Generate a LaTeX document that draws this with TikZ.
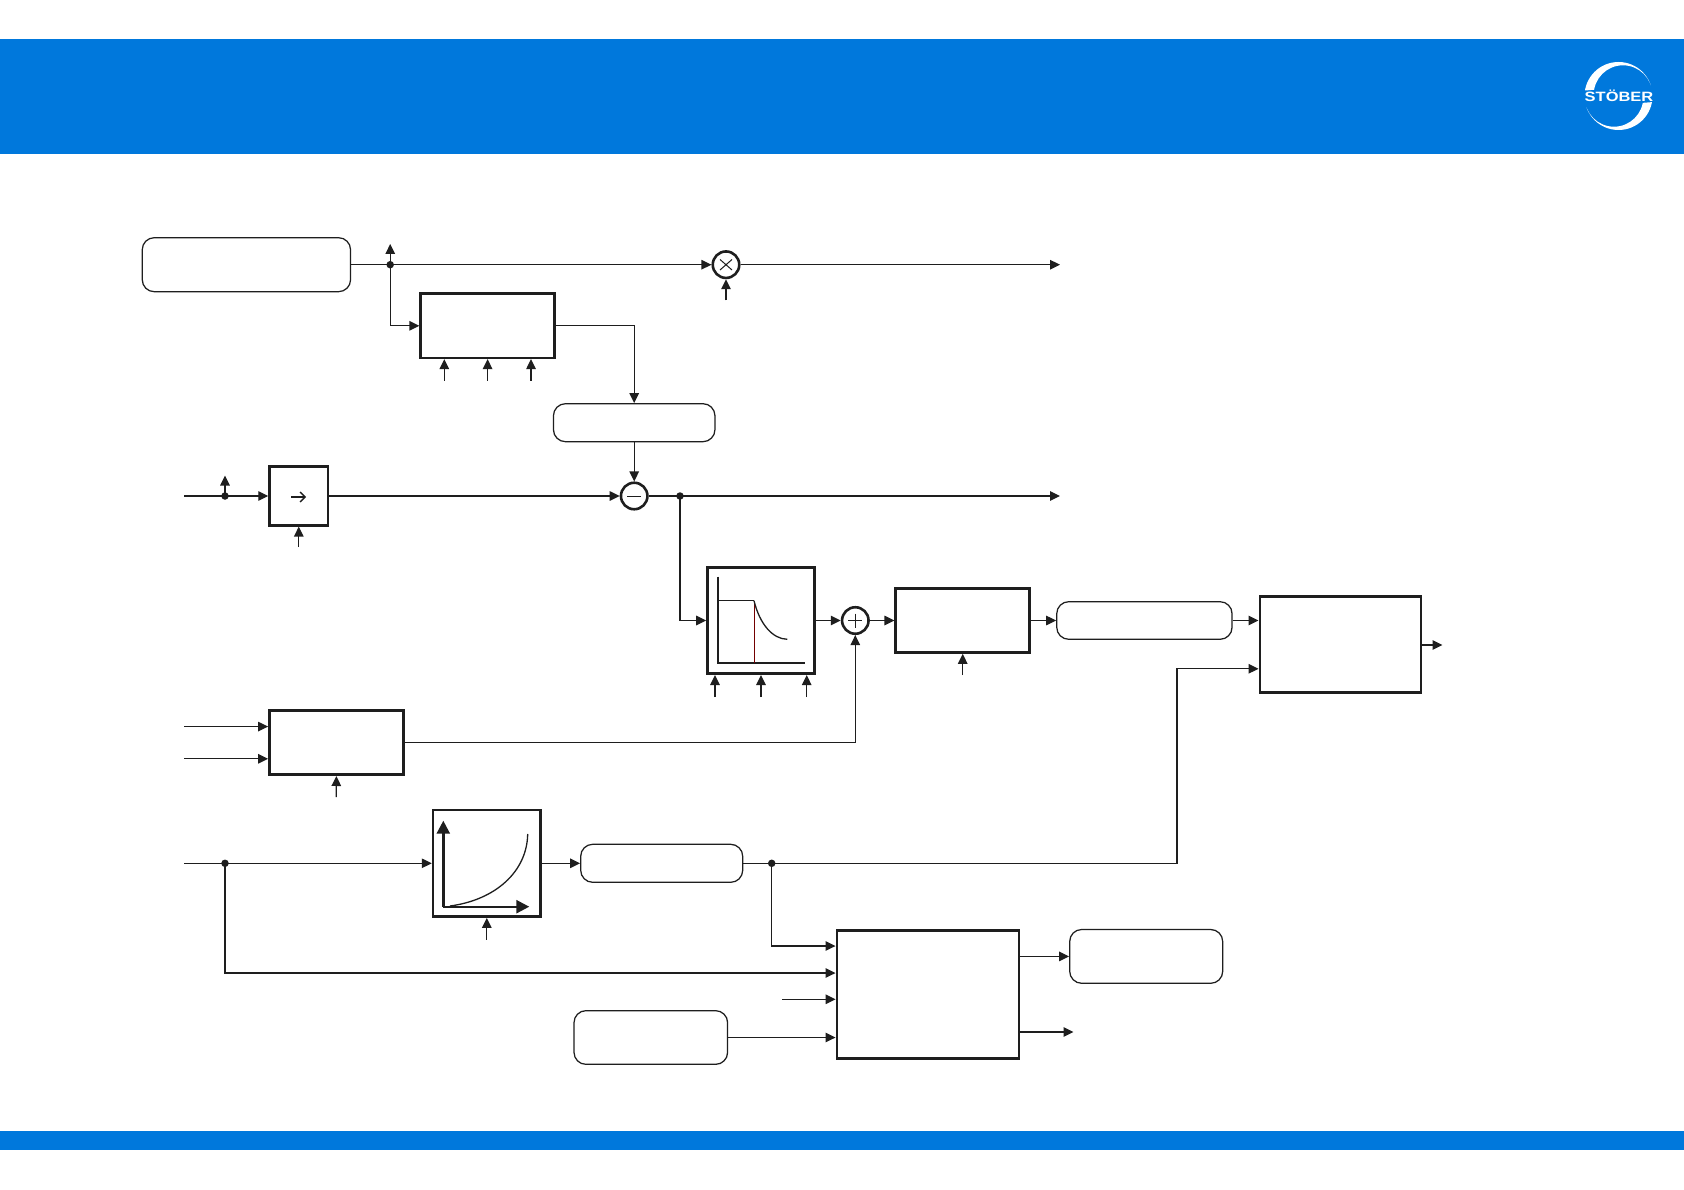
\documentclass[tikz,border=0pt]{standalone}
\usepackage{fontspec}
\setmainfont{Liberation Sans}
\usetikzlibrary{arrows.meta}
\definecolor{hdr}{HTML}{0078DC}
\definecolor{ink}{HTML}{1E1E1E}
\tikzset{
  x=1pt,y=-1pt,
  conn/.style={draw=ink,line width=1.25pt,-{Triangle[length=10pt,width=9.5pt]}},
  rbox/.style={draw=ink,line width=1.25pt,rounded corners=12pt,inner sep=0pt},
  sbox/.style={draw=ink,line width=2.6pt,inner sep=0pt,fill=white},
  sumc/.style={circle,draw=ink,line width=2.6pt,inner sep=0pt,minimum size=26.5pt,fill=white},
  dotn/.style={circle,fill=ink,inner sep=0pt,minimum size=7.5pt},
  glyph/.style={draw=ink,line width=1pt},
  axis/.style={draw=ink,line width=2.4pt},
  axtip/.style={axis,-{Triangle[length=13pt,width=13pt]}},
  curve/.style={draw=ink,line width=1.3pt},
}
\begin{document}
\begin{tikzpicture}
\useasboundingbox (0,0) rectangle (1684,1190);
\fill[white] (0,0) rectangle (1684,1190);
\fill[hdr] (0,39) rectangle (1684,153.6);
\fill[hdr] (0,1131) rectangle (1684,1150);
% logo
\begin{scope}
  \clip (1580,50) -- (1660,50) -- (1652.5,85) -- (1585,90.5) -- cycle;
  \fill[white,even odd rule] (1618.5,96) circle[radius=34] (1623,94.6) circle[radius=29.3];
\end{scope}
\begin{scope}
  \clip (1580,142) -- (1660,142) -- (1660,101.5) -- (1584,107.5) -- cycle;
  \fill[white,even odd rule] (1618.5,96) circle[radius=34] (1614,97.4) circle[radius=29.3];
\end{scope}
\node[text=white,inner sep=0pt,xscale=1.22,font=\bfseries\fontsize{13.5}{14}\selectfont] (logo) at (1619,96) {STÖBER};
% nodes
\node[rbox,minimum width=208.3pt,minimum height=54pt] (a) at (246.4,264.7) {};
\node[sbox,minimum width=134pt,minimum height=64pt] (b) at (487.7,325.8) {};
\node[rbox,minimum width=161.5pt,minimum height=38pt] (c) at (634.2,422.7) {};
\node[sumc] (mult) at (726,264.7) {};
\node[sumc] (minus) at (634.2,496) {};
\node[sbox,minimum width=58.5pt,minimum height=58.5pt] (d) at (298.8,496) {};
\node[sbox,minimum width=107pt,minimum height=106.5pt] (e) at (761,620.5) {};
\node[sumc] (plus) at (855.3,620.5) {};
\node[sbox,minimum width=134pt,minimum height=64pt] (f) at (962.7,620.5) {};
\node[rbox,minimum width=175.3pt,minimum height=37.6pt] (g) at (1144.4,620.5) {};
\node[sbox,minimum width=161pt,minimum height=96pt] (h) at (1340.3,644.5) {};
\node[sbox,minimum width=134pt,minimum height=64pt] (i) at (336.4,742.7) {};
\node[sbox,minimum width=107.5pt,minimum height=106.5pt] (j) at (486.8,863.3) {};
\node[rbox,minimum width=162pt,minimum height=38pt] (k) at (661.7,863.3) {};
\node[sbox,minimum width=182.3pt,minimum height=128pt] (l) at (928,994.5) {};
\node[rbox,minimum width=153.6pt,minimum height=53.7pt] (m) at (650.8,1037.5) {};
\node[rbox,minimum width=153pt,minimum height=53.8pt] (n) at (1146.2,956.4) {};
% free ends
\coordinate (up1) at (390.2,244);
\coordinate (endA) at (1060,264.7);
\coordinate (mIn) at (726,300.5);
\coordinate (bIn1) at (444.3,380.7);
\coordinate (bIn2) at (487.6,380.7);
\coordinate (bIn3) at (531,380.7);
\coordinate (s2) at (184,496);
\coordinate (up2) at (225,475.5);
\coordinate (dIn) at (298.8,547);
\coordinate (endB) at (1060,496);
\coordinate (eIn1) at (715,697);
\coordinate (eIn2) at (761,697);
\coordinate (eIn3) at (806.7,697);
\coordinate (fIn) at (962.7,675);
\coordinate (hOut) at (1442.5,645);
\coordinate (hIn2) at (1177,668.8);
\coordinate (s4a) at (184,726.6);
\coordinate (s4b) at (184,758.8);
\coordinate (iIn) at (336.2,797);
\coordinate (s5) at (184,863.3);
\coordinate (jIn) at (486.8,939.5);
\coordinate (bend) at (1177,863.3);
\coordinate (lIn1) at (771.7,946);
\coordinate (lIn2) at (225,973);
\coordinate (lIn3) at (782,999.3);
\coordinate (lOut2) at (1073.5,1032);
% junctions
\node[dotn] (j1) at (390.2,264.7) {};
\node[dotn] (j2) at (225,496) {};
\node[dotn] (j3) at (680,496) {};
\node[dotn] (j4) at (771.7,863.3) {};
\node[dotn] (j5) at (225,863.3) {};
% connectors
\draw[conn] (a.east) -- (mult.west);
\draw[conn] (j1.center) -- (up1);
\draw[conn] (j1.center) |- (b.west);
\draw[conn] (mult.east) -- (endA);
\draw[conn] (mIn) -- (mult.south);
\draw[conn] (bIn1) -- (bIn1 |- b.south);
\draw[conn] (bIn2) -- (bIn2 |- b.south);
\draw[conn] (bIn3) -- (bIn3 |- b.south);
\draw[conn] (b.east) -| (c.north);
\draw[conn] (c.south) -- (minus.north);
\draw[conn] (s2) -- (d.west);
\draw[conn] (j2.center) -- (up2);
\draw[conn] (d.east) -- (minus.west);
\draw[conn] (dIn) -- (d.south);
\draw[conn] (minus.east) -- (endB);
\draw[conn] (j3.center) |- (e.west);
\draw[conn] (eIn1) -- (eIn1 |- e.south);
\draw[conn] (eIn2) -- (eIn2 |- e.south);
\draw[conn] (eIn3) -- (eIn3 |- e.south);
\draw[conn] (e.east) -- (plus.west);
\draw[conn] (plus.east) -- (f.west);
\draw[conn] (fIn) -- (f.south);
\draw[conn] (f.east) -- (g.west);
\draw[conn] (g.east) -- (g.east -| h.west);
\draw[conn] (h.east |- hOut) -- (hOut);
\draw[conn] (s4a) -- (s4a -| i.west);
\draw[conn] (s4b) -- (s4b -| i.west);
\draw[conn] (i.east) -| (plus.south);
\draw[conn] (iIn) -- (i.south);
\draw[conn] (s5) -- (j.west);
\draw[conn] (jIn) -- (j.south);
\draw[conn] (j.east) -- (k.west);
\draw[conn] (k.east) -- (bend) |- (hIn2 -| h.west);
\draw[conn] (j4.center) |- (lIn1 -| l.west);
\draw[conn] (j5.center) |- (lIn2 -| l.west);
\draw[conn] (lIn3) -- (lIn3 -| l.west);
\draw[conn] (m.east) -- (m.east -| l.west);
\draw[conn] (l.east |- n.west) -- (n.west);
\draw[conn] (l.east |- lOut2) -- (lOut2);
% glyphs in circles
\draw[glyph] (720,259.5) -- (732,270) (732,259.5) -- (720,270);
\draw[glyph] (627,496) -- (641.4,496);
\draw[glyph] (848.3,620.5) -- (862.3,620.5) (855.3,613.5) -- (855.3,627.5);
% direction arrow in d
\draw[draw=ink,line width=1.3pt,-{Straight Barb[length=5pt,width=10pt]}] (291,497) -- (306,497);
% characteristic in e
\draw[draw=ink,line width=2.2pt] (718,576.7) -- (718,663.3) -- (805,663.3);
\draw[curve] (718,600.7) -- (754,600.7);
\draw[draw=red!45!black,line width=0.8pt] (754,600.7) -- (754,663.3);
\draw[curve] (754,600.7) .. controls (760,625) and (773,639) .. (787.3,639.3);
% characteristic in j
\draw[axtip] (443.3,906.7) -- (443.3,820.7);
\draw[axtip] (443.3,906.7) -- (529.3,906.7);
\draw[curve] (450,906) .. controls (495,900) and (527,872) .. (527.7,834);
\end{tikzpicture}
\end{document}
